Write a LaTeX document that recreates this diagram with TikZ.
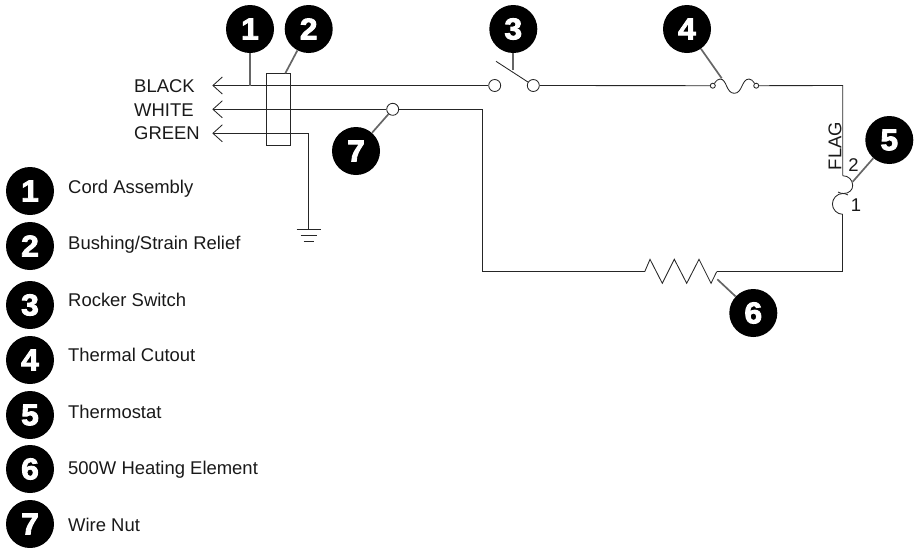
\documentclass[tikz,border=0pt]{standalone}
\usepackage{fontspec}
\setmainfont{Liberation Sans}
\newfontfamily\badgefont[FakeBold=3,FakeStretch=1.06]{Liberation Sans Bold}
\usetikzlibrary{arrows.meta}
\tikzset{
  wire/.style={draw=black!85,line width=0.85pt},
  feed/.style={wire,{Straight Barb[length=9.4pt,width=17pt,line width=0.85pt]}-},
  leader/.style={draw=black!60,line width=1.7pt},
  badge/.style={circle,fill=black,draw=none,inner sep=0pt,minimum size=48pt,text=white,font=\badgefont\fontsize{30}{30}\selectfont},
  term/.style={circle,draw=black!85,line width=0.85pt,fill=white,inner sep=0pt,minimum size=12pt},
  smallterm/.style={circle,draw=black!85,line width=0.85pt,fill=white,inner sep=0pt,minimum size=5pt},
  lbl/.style={anchor=base west,inner sep=0pt,font=\fontsize{18.45}{18.45}\selectfont,text=black!90},
  wlbl/.style={lbl},
  pin/.style={inner sep=0pt,font=\fontsize{18.45}{18.45}\selectfont,text=black!90}
}
\begin{document}
\begin{tikzpicture}[x=1pt,y=-1pt]
\useasboundingbox (0,0) rectangle (917,547);
% named points
\coordinate (bk) at (212.3,85.5);
\coordinate (wh) at (212.3,109.3);
\coordinate (gr) at (212.3,133.3);
\coordinate (gc) at (308.3,133.3);
\coordinate (gt) at (308.3,229.5);
\coordinate (g1a) at (296.5,229.5); \coordinate (g1b) at (320.5,229.5);
\coordinate (g2a) at (300.5,235.5); \coordinate (g2b) at (316.5,235.5);
\coordinate (g3a) at (303.5,241); \coordinate (g3b) at (313.5,241);
\coordinate (wc) at (482.3,109.3);
\coordinate (rl) at (482.3,271.7);
\coordinate (ra) at (644.7,271.7);
\coordinate (rb) at (716.7,271.7);
\coordinate (rc) at (842.7,271.7);
\coordinate (tlow) at (842.7,214.3);
\coordinate (tup) at (842.7,175.7);
\coordinate (tc) at (842.7,85.5);
\coordinate (blade) at (496,61.3);
\coordinate (t1) at (250,85.5);
\coordinate (t2) at (285.3,73.3);
\coordinate (t3) at (513.3,70);
\coordinate (t4) at (721.7,78.3);
\coordinate (t5) at (852.7,181.7);
\coordinate (t6) at (717.3,279.3);
% strain relief
\node[draw=black!85,line width=0.85pt,minimum width=23.6pt,minimum height=72pt,inner sep=0pt] (relief) at (278.5,109.3) {};
% terminals
\node[term] (sw1) at (494.7,85.5) {};
\node[term] (sw2) at (533.3,85.5) {};
\node[term] (nut) at (392.7,109.3) {};
\node[smallterm] (fu1) at (712.8,85.7) {};
\node[smallterm] (fu2) at (756.2,85.7) {};
% wires
\draw[feed] (bk) -- (sw1);
\draw[feed] (wh) -- (nut);
\draw[feed] (gr) -- (gc) -- (gt);
\draw[wire] (g1a) -- (g1b);
\draw[wire] (g2a) -- (g2b);
\draw[wire] (g3a) -- (g3b);
\draw[wire] (nut) -- (wc) -- (rl) -- (ra);
\draw[wire] (ra) -- (650,259.3) -- (662.3,283.3) -- (674.3,259.3) -- (686.7,283.3) -- (699,259.3) -- (711,283.3) -- (rb);
\draw[wire] (rb) -- (rc) -- (tlow);
\draw[wire] (sw2) -- (fu1);
\draw[wire] (blade) -- (sw2);
\draw[wire] (fu1) .. controls (716.5,80.5) and (718,79) .. (720,79)
  .. controls (727,79) and (726,93.3) .. (734.3,93.3)
  .. controls (742.5,93.3) and (741.5,79) .. (749,79)
  .. controls (751,79) and (752.5,80.5) .. (fu2);
\draw[wire] (fu2) -- (tc) -- (tup);
\draw[wire] (tup) .. controls (848.5,175.7) and (852.7,180) .. (852.7,185.5)
  .. controls (852.7,190) and (849,193.5) .. (843.5,193.5) .. controls (841.5,193.5) and (839.5,193) .. (838,192);
\draw[wire] (848,195) .. controls (846,193.8) and (844.5,193.5) .. (842.7,193.5)
  .. controls (837,193.5) and (832.4,198.5) .. (832.4,204)
  .. controls (832.4,209.5) and (837,214.3) .. (tlow);
% badges
\node[badge] (b1) at (250,29) {1};
\node[badge] (b2) at (308.7,29) {2};
\node[badge] (b3) at (513.3,29) {3};
\node[badge] (b4) at (687,29) {4};
\node[badge] (b5) at (889.3,140) {5};
\node[badge] (b6) at (753.3,313) {6};
\node[badge] (b7) at (356,151) {7};
\draw[leader] (b1) -- (t1);
\draw[leader] (b2) -- (t2);
\draw[leader] (b3) -- (t3);
\draw[leader] (b4) -- (t4);
\draw[leader] (b5) -- (t5);
\draw[leader] (b6) -- (t6);
\draw[leader] (b7) -- (nut);
% wire labels
\node[wlbl] (lb) at (134,92.7) {BLACK};
\node[wlbl] (lw) at (134,116) {WHITE};
\node[wlbl] (lg) at (134,139.8) {GREEN};
\node[pin,rotate=90] (flag) at (835,146) {FLAG};
\node[pin] (p2) at (853.5,165) {2};
\node[pin] (p1) at (856,205) {1};
% legend
\foreach \n/\y/\t/\b in {1/191/Cord Assembly/193.5,2/246/Bushing\slash Strain Relief/249,3/305/Rocker Switch/306.5,4/360/Thermal Cutout/361.7,5/415/Thermostat/418,6/469/500W Heating Element/474,7/524/Wire Nut/531.7}{
  \node[badge] (k\n) at (30,\y) {\n};
  \node[lbl] (l\n) at (68,\b) {\t};
}
\end{tikzpicture}
\end{document}
